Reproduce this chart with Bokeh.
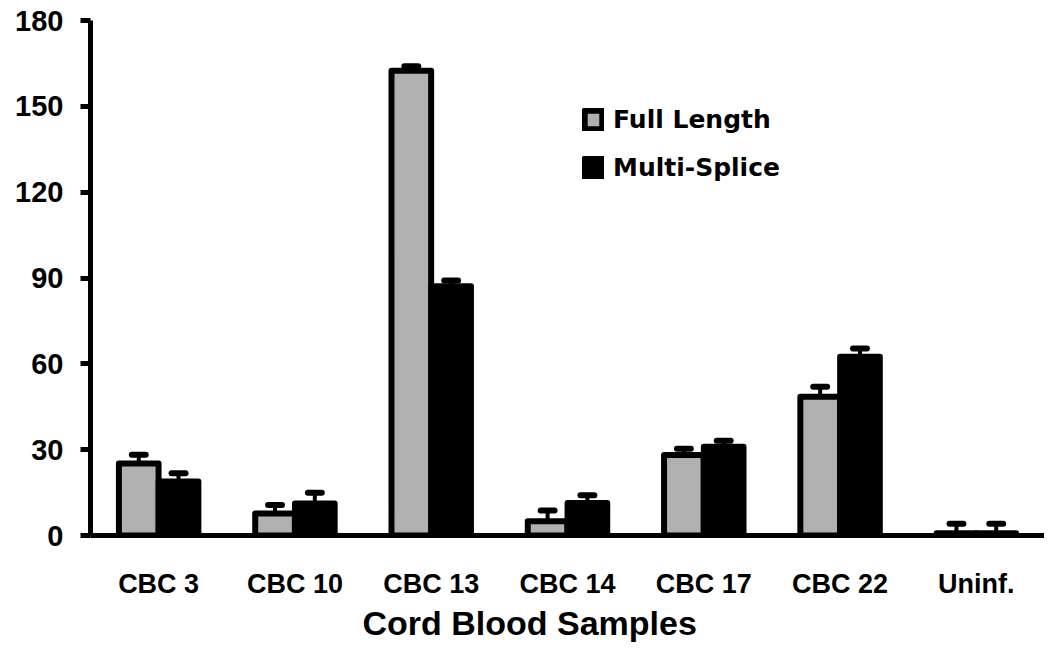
from bokeh.plotting import figure
from bokeh.models import (FactorRange, Range1d, FixedTicker, ColumnDataSource,
                          Legend, LegendItem, Title)
from bokeh.transform import dodge
from bokeh.embed import file_html
from bokeh.resources import INLINE

# ---- data ----
categories = ["CBC 3", "CBC 10", "CBC 13", "CBC 14", "CBC 17", "CBC 22", "Uninf."]
full_length = [25.2, 7.7, 162.4, 5.0, 28.1, 48.5, 0.8]
full_length_err = [3.0, 3.0, 1.6, 3.7, 2.2, 3.5, 3.3]
multi_splice = [18.9, 11.2, 87.1, 11.4, 31.0, 62.5, 0.8]
multi_splice_err = [2.9, 3.7, 2.0, 2.7, 2.1, 2.9, 3.3]
y_ticks = [0, 30, 60, 90, 120, 150, 180]
series_names = ["Full Length", "Multi-Splice"]
x_title = "Cord Blood Samples"

src = ColumnDataSource(dict(
    cats=categories,
    fl=full_length,
    fl_top=[v + e for v, e in zip(full_length, full_length_err)],
    ms=multi_splice,
    ms_top=[v + e for v, e in zip(multi_splice, multi_splice_err)],
))

p = figure(x_range=FactorRange(factors=categories, range_padding=0),
           y_range=Range1d(0, 180),
           width=1044, height=644,
           output_backend="svg", toolbar_location=None,
           min_border_left=90, min_border_right=0,
           min_border_top=20, min_border_bottom=109)
p.outline_line_color = None
p.xgrid.grid_line_color = None
p.ygrid.grid_line_color = None
p.background_fill_color = "white"
p.border_fill_color = "white"

off = 0.146
bw = 0.291
cap = 0.051
xr = p.x_range

r1 = p.vbar(x=dodge('cats', -off, range=xr), top='fl', width=bw, source=src,
            fill_color="#b0b0b0", line_color="black", line_width=6, line_join="round")
r2 = p.vbar(x=dodge('cats', off, range=xr), top='ms', width=bw, source=src,
            fill_color="black", line_color="black", line_width=6, line_join="round")

# error bars (upward only)
for o, base, top in [(-off, 'fl', 'fl_top'), (off, 'ms', 'ms_top')]:
    p.segment(x0=dodge('cats', o, range=xr), y0=base,
              x1=dodge('cats', o, range=xr), y1=top,
              source=src, line_color="black", line_width=4)
    p.segment(x0=dodge('cats', o - cap, range=xr), y0=top,
              x1=dodge('cats', o + cap, range=xr), y1=top,
              source=src, line_color="black", line_width=6, line_cap="round")

# y axis
p.yaxis.ticker = FixedTicker(ticks=y_ticks)
p.yaxis.axis_line_width = 5
p.yaxis.axis_line_color = "black"
p.yaxis.major_tick_line_width = 5
p.yaxis.major_tick_line_color = "black"
p.yaxis.major_tick_out = 10
p.yaxis.major_tick_in = 0
p.yaxis.minor_tick_line_color = None
p.yaxis.major_label_text_font = "Liberation Sans"
p.yaxis.major_label_text_font_size = "29px"
p.yaxis.major_label_text_font_style = "bold"
p.yaxis.major_label_text_color = "black"
p.yaxis.major_label_standoff = 17

# x axis
p.xaxis.axis_line_width = 5
p.xaxis.axis_line_color = "black"
p.xaxis.major_tick_line_color = None
p.xaxis.major_tick_out = 0
p.xaxis.major_tick_in = 0
p.xaxis.minor_tick_line_color = None
p.xaxis.major_label_text_font = "Liberation Sans"
p.xaxis.major_label_text_font_size = "27px"
p.xaxis.major_label_text_font_style = "bold"
p.xaxis.major_label_text_color = "black"
p.xaxis.major_label_standoff = 33

t = Title(text=x_title, align="left", offset=272, standoff=0,
          text_font="Liberation Sans", text_font_size="34px",
          text_font_style="bold", text_color="black")
p.add_layout(t, "below")

legend = Legend(items=[LegendItem(label=series_names[0], renderers=[r1]),
                       LegendItem(label=series_names[1], renderers=[r2])],
                location=(492, 353),
                padding=0, margin=0, spacing=19,
                glyph_width=22, glyph_height=23, label_standoff=9,
                label_text_font="DejaVu Sans", label_text_font_size="25px",
                label_text_font_style="bold", label_text_color="black",
                border_line_color=None, background_fill_alpha=0)
p.add_layout(legend, "center")

open("out.html", "w").write(file_html(p, INLINE))
